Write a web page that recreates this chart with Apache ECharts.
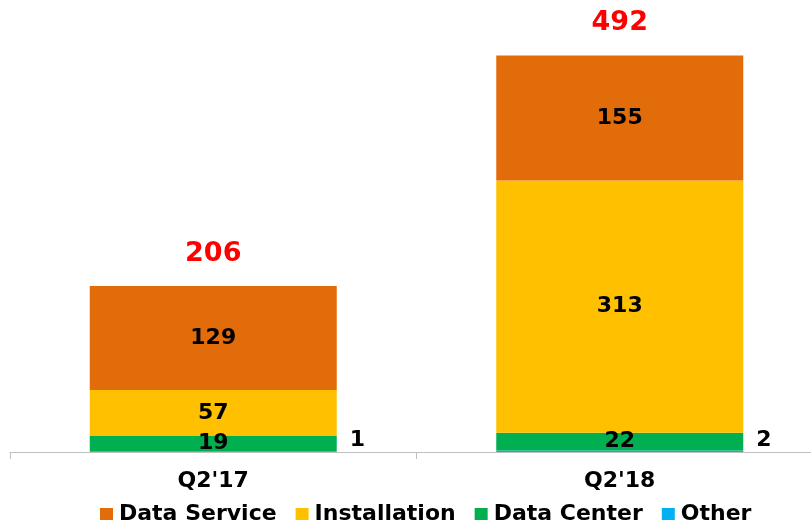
<!DOCTYPE html>
<html>
<head>
<meta charset="utf-8">
<script src="https://cdn.jsdelivr.net/npm/echarts@6/dist/echarts.min.js"></script>
<style>
  html, body { margin: 0; padding: 0; background: #fff; overflow: hidden; }
  /* axis runs past the right edge in the original, so the canvas is a bit wider than the window */
  #chart { width: 823px; height: 529px; }
</style>
</head>
<body>
<div id="chart"></div>
<script>
const categories = ["Q2'17", "Q2'18"]
const otherValues = [1, 2]
const dataCenterValues = [19, 22]
const installationValues = [57, 313]
const dataServiceValues = [129, 155]
const totals = [206, 492]

const FONT = '"DejaVu Sans", Verdana, sans-serif'
const COLORS = {
  service: '#E36C0A',
  install: '#FFC000',
  center: '#00B050',
  other: '#00B0F0',
  total: '#FF0000',
}

const chart = echarts.init(document.getElementById('chart'))

const innerLabel = {
  show: true,
  position: 'inside',
  color: '#000',
  fontFamily: FONT,
  fontWeight: 'bold',
  fontSize: 22,
}

function stackSeries(name, values, color, label) {
  return {
    name,
    type: 'bar',
    stack: 'total',
    barWidth: 247,
    data: values,
    itemStyle: { color },
    label,
  }
}

const option = {
  animation: false,
  textStyle: { fontFamily: FONT },
  grid: { left: 10, top: 49, right: 0, bottom: 77 },
  legend: {
    data: ['Data Service', 'Installation', 'Data Center', 'Other'],
    top: 503,
    left: 100,
    padding: 0,
    icon: 'rect',
    itemWidth: 13,
    itemHeight: 12,
    itemGap: 19,
    textStyle: {
      fontFamily: FONT,
      fontWeight: 'bold',
      fontSize: 22,
      color: '#000',
      padding: [0, 0, 0, 1],
    },
  },
  xAxis: {
    type: 'category',
    data: categories,
    axisLine: { lineStyle: { color: '#bfbfbf', width: 1 } },
    axisTick: { show: true, length: 7, lineStyle: { color: '#bfbfbf' } },
    axisLabel: { margin: 18, color: '#000', fontFamily: FONT, fontWeight: 'bold', fontSize: 22 },
  },
  yAxis: {
    type: 'value',
    min: 0,
    max: 500,
    show: false,
    splitLine: { show: false },
  },
  series: [
    stackSeries('Other', otherValues, COLORS.other, {
      show: true,
      position: 'right',
      distance: 13,
      offset: [0, -11],
      color: '#000',
      fontFamily: FONT,
      fontWeight: 'bold',
      fontSize: 22,
    }),
    stackSeries('Data Center', dataCenterValues, COLORS.center, innerLabel),
    stackSeries('Installation', installationValues, COLORS.install, innerLabel),
    stackSeries('Data Service', dataServiceValues, COLORS.service, innerLabel),
    {
      name: 'Total',
      type: 'line',
      data: totals,
      symbol: 'circle',
      symbolSize: 1,
      itemStyle: { color: 'rgba(0,0,0,0)' },
      lineStyle: { width: 0, color: 'rgba(0,0,0,0)' },
      label: {
        show: true,
        position: 'top',
        distance: 18,
        color: COLORS.total,
        fontFamily: FONT,
        fontWeight: 'bold',
        fontSize: 27,
      },
      z: 5,
    },
  ],
}

chart.setOption(option)
</script>
</body>
</html>
